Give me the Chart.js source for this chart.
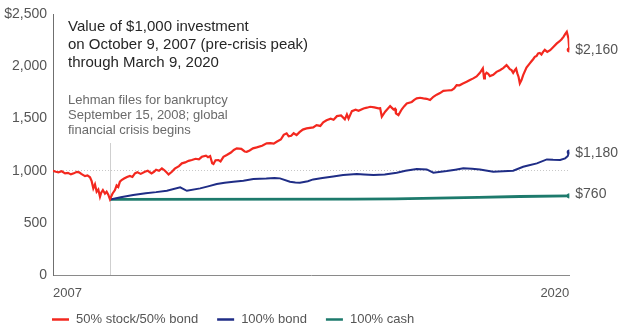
<!DOCTYPE html>
<html><head><meta charset="utf-8">
<script src="https://cdn.jsdelivr.net/npm/chart.js@4"></script>
<style>html,body{margin:0;padding:0;background:#fff}#wrap{width:624px;height:332px;position:relative}</style>
</head><body><div id="wrap"><canvas id="c" width="624" height="332"></canvas></div>
<script>
const seriesNames = ['50% stock/50% bond', '100% bond', '100% cash'];
const seriesColors = ['#f3281f', '#1f2d86', '#1d7a6c'];

const stockBondYears = [2007.77,2007.84,2007.90,2007.98,2008.06,2008.13,2008.20,2008.27,2008.34,2008.40,2008.45,2008.54,2008.60,2008.66,2008.70,2008.74,2008.78,2008.82,2008.86,2008.90,2008.93,2008.97,2009.02,2009.06,2009.10,2009.14,2009.20,2009.26,2009.30,2009.34,2009.38,2009.42,2009.48,2009.55,2009.62,2009.68,2009.74,2009.80,2009.88,2009.98,2010.05,2010.14,2010.20,2010.25,2010.32,2010.39,2010.45,2010.50,2010.55,2010.63,2010.70,2010.80,2010.87,2010.95,2011.03,2011.11,2011.20,2011.28,2011.35,2011.45,2011.50,2011.55,2011.60,2011.63,2011.68,2011.75,2011.80,2011.87,2011.95,2012.05,2012.12,2012.19,2012.30,2012.38,2012.43,2012.50,2012.58,2012.67,2012.80,2012.91,2013.00,2013.08,2013.15,2013.25,2013.32,2013.39,2013.44,2013.50,2013.56,2013.63,2013.70,2013.78,2013.87,2014.03,2014.11,2014.20,2014.27,2014.35,2014.45,2014.52,2014.60,2014.70,2014.79,2014.84,2014.88,2014.96,2015.05,2015.12,2015.24,2015.32,2015.40,2015.50,2015.60,2015.64,2015.68,2015.76,2015.88,2015.96,2016.00,2016.02,2016.08,2016.16,2016.22,2016.28,2016.40,2016.46,2016.52,2016.60,2016.68,2016.76,2016.84,2016.92,2017.00,2017.08,2017.16,2017.25,2017.36,2017.42,2017.48,2017.55,2017.62,2017.72,2017.80,2017.88,2017.96,2018.04,2018.11,2018.14,2018.16,2018.20,2018.24,2018.28,2018.36,2018.44,2018.52,2018.60,2018.68,2018.72,2018.76,2018.80,2018.84,2018.88,2018.91,2018.94,2018.97,2019.00,2019.04,2019.08,2019.16,2019.24,2019.28,2019.32,2019.36,2019.40,2019.44,2019.48,2019.52,2019.56,2019.60,2019.66,2019.73,2019.80,2019.89,2019.95,2020.00,2020.05,2020.09,2020.13,2020.17,2020.19];
const stockBondValues = [1000,990,985,995,975,980,965,975,990,985,970,949,955,937,900,831,870,799,820,751,790,815,780,799,770,726,780,815,860,845,895,911,925,940,950,940,975,985,970,990,1000,975,990,1010,1000,1023,1005,985,965,990,1020,1045,1071,1080,1095,1103,1115,1110,1134,1145,1130,1141,1071,1064,1100,1103,1090,1134,1151,1175,1200,1215,1210,1185,1182,1195,1215,1224,1240,1263,1265,1260,1278,1300,1345,1359,1330,1335,1360,1342,1370,1395,1406,1416,1438,1430,1465,1485,1500,1490,1524,1530,1493,1540,1500,1572,1585,1575,1598,1605,1614,1608,1598,1600,1518,1566,1620,1589,1595,1550,1534,1590,1620,1646,1660,1680,1694,1700,1694,1690,1678,1710,1730,1745,1767,1770,1774,1790,1822,1820,1835,1853,1870,1886,1905,1940,1982,1886,1920,1940,1930,1908,1920,1949,1965,1985,2013,1995,1975,1966,1940,1966,1980,1934,1900,1838,1870,1918,1990,2030,2050,2070,2093,2100,2126,2130,2115,2141,2160,2140,2157,2185,2222,2240,2260,2285,2310,2333,2270,2160];

const bondYears = [2009.14,2009.18,2009.40,2009.70,2010.00,2010.25,2010.51,2010.83,2010.99,2011.31,2011.50,2011.71,2011.90,2012.11,2012.35,2012.59,2012.90,2013.10,2013.23,2013.47,2013.60,2013.71,2013.90,2014.03,2014.25,2014.51,2014.75,2015.08,2015.25,2015.48,2015.75,2016.04,2016.25,2016.52,2016.76,2016.92,2017.24,2017.45,2017.64,2017.85,2018.04,2018.36,2018.60,2018.84,2019.08,2019.20,2019.41,2019.65,2019.80,2019.97,2020.09,2020.15,2020.19];
const bondValues = [726,726,745,767,785,795,808,841,808,831,850,872,885,895,905,920,925,930,927,895,888,885,900,917,930,945,959,970,965,959,965,981,1000,1016,1013,981,997,1010,1023,1020,1013,990,995,1000,1038,1050,1071,1109,1105,1103,1119,1140,1180];

const cashYears = [2009.14,2015.00,2016.00,2017.00,2018.00,2019.00,2020.19];
const cashValues = [726,727,730,737,745,753,760];

const endLabels = ['$2,160', '$1,180', '$760'];
const xTickLabels = ['2007', '2020'];
const yTickValues = [0, 500, 1000, 1500, 2000, 2500];
const startYear = 2007.77, endYear = 2020.19;
const lehmanYear = 2009.14;
const titleLines = ['Value of $1,000 investment', 'on October 9, 2007 (pre-crisis peak)', 'through March 9, 2020'];
const noteLines = ['Lehman files for bankruptcy', 'September 15, 2008; global', 'financial crisis begins'];

const FONT = '"Liberation Sans", Arial, sans-serif';

function pts(xs, ys) { return xs.map((x, i) => ({x: x, y: ys[i]})); }
function endDot(ctx) { return ctx.dataIndex === ctx.dataset.data.length - 1 ? 2.6 : 0; }

const decor = {
  id: 'decor',
  beforeDatasetsDraw(chart) {
    const {ctx, chartArea, scales} = chart;
    const x = Math.round(scales.x.getPixelForValue(lehmanYear)) + 0.5;
    ctx.save();
    ctx.strokeStyle = '#cfcfcf';
    ctx.lineWidth = 1;
    ctx.beginPath();
    ctx.moveTo(x, 143);
    ctx.lineTo(x, chartArea.bottom);
    ctx.stroke();
    ctx.restore();
  },
  afterDraw(chart) {
    const {ctx, scales} = chart;
    ctx.save();
    ctx.textAlign = 'left';
    ctx.textBaseline = 'alphabetic';
    ctx.fillStyle = '#262626';
    ctx.font = '15px ' + FONT;
    titleLines.forEach((t, i) => ctx.fillText(t, 68, 31 + i * 18));
    ctx.fillStyle = '#6a6a6a';
    ctx.font = '13px ' + FONT;
    noteLines.forEach((t, i) => ctx.fillText(t, 68, 104 + i * 15));
    ctx.font = '14px ' + FONT;
    ctx.fillStyle = '#555';
    ctx.textBaseline = 'middle';
    const offs = [0, 1, -2];
    chart.data.datasets.forEach((ds, i) => {
      const last = ds.data[ds.data.length - 1];
      const px = scales.x.getPixelForValue(last.x);
      const py = scales.y.getPixelForValue(last.y);
      ctx.fillText(endLabels[i], px + 6, py + offs[i]);
    });
    ctx.font = '13px ' + FONT;
    let lx = 52;
    const ly = 319.5;
    chart.data.datasets.forEach((ds, i) => {
      ctx.strokeStyle = ds.borderColor;
      ctx.lineWidth = 2.5;
      ctx.beginPath();
      ctx.moveTo(lx, ly);
      ctx.lineTo(lx + 17, ly);
      ctx.stroke();
      ctx.fillStyle = '#555';
      ctx.fillText(ds.label, lx + 24, ly);
      lx += 24 + ctx.measureText(ds.label).width + 19;
    });
    ctx.restore();
  }
};

new Chart(document.getElementById('c'), {
  type: 'line',
  data: {
    datasets: [
      {label: seriesNames[0], data: pts(stockBondYears, stockBondValues), borderColor: seriesColors[0], backgroundColor: seriesColors[0], borderWidth: 2.2, pointRadius: endDot, pointBorderWidth: 0, tension: 0},
      {label: seriesNames[1], data: pts(bondYears, bondValues), borderColor: seriesColors[1], backgroundColor: seriesColors[1], borderWidth: 2, pointRadius: endDot, pointBorderWidth: 0, tension: 0},
      {label: seriesNames[2], data: pts(cashYears, cashValues), borderColor: seriesColors[2], backgroundColor: seriesColors[2], borderWidth: 2.8, pointRadius: endDot, pointBorderWidth: 0, tension: 0}
    ]
  },
  options: {
    responsive: false,
    animation: false,
    devicePixelRatio: 1,
    layout: {padding: {left: 0, right: 54.7, top: 14.3, bottom: 0}},
    plugins: {legend: {display: false}, tooltip: {enabled: false}},
    scales: {
      x: {
        type: 'linear', min: startYear, max: endYear,
        afterBuildTicks: s => { s.ticks = [{value: startYear}, {value: endYear}]; },
        afterFit: s => { s.height = 57; },
        grid: {display: false, drawTicks: false},
        border: {color: '#8a8a8a', width: 1},
        ticks: {
          callback: (v, i) => xTickLabels[i],
          align: 'inner', maxRotation: 0, autoSkip: false, padding: 11,
          color: '#555', font: {family: FONT, size: 13}
        }
      },
      y: {
        min: 0, max: 2500,
        afterBuildTicks: s => { s.ticks = yTickValues.map(v => ({value: v})); },
        afterFit: s => { s.width = 53; },
        grid: {drawTicks: false, color: c => (c.tick && c.tick.value === 1000) ? '#c8c8c8' : 'rgba(0,0,0,0)', lineWidth: 1},
        border: {color: '#6f6f6f', width: 1, dash: [1, 2]},
        ticks: {
          callback: v => v === 2500 ? '$2,500' : v.toLocaleString('en-US'),
          padding: 6, color: '#555', font: {family: FONT, size: 14}
        }
      }
    }
  },
  plugins: [decor]
});
</script>
</body></html>
